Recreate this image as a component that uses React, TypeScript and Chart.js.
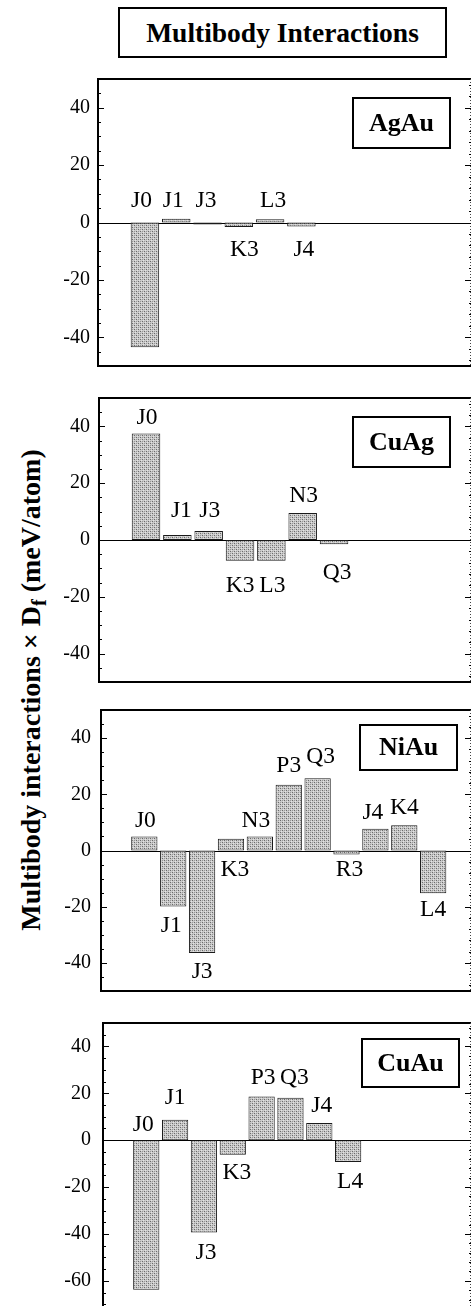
import React, { useEffect, useRef } from 'react';
import { Chart, registerables } from 'chart.js';

Chart.register(...registerables);

const FONT = '"Liberation Serif", "Times New Roman", serif';

// ---------- text ----------
const chartTitle = 'Multibody Interactions';
const yTitleMain = 'Multibody interactions \u00d7 D';
const yTitleSub = 'f';
const yTitleUnit = ' (meV/atom)';

// ---------- data ----------
const alloyNames = ['AgAu', 'CuAg', 'NiAu', 'CuAu'];

const agauLabels = ['J0', 'J1', 'J3', 'K3', 'L3', 'J4'];
const agauValues = [-43.5, 1.3, -0.7, -1.6, 1.1, -1.4];

const cuagLabels = ['J0', 'J1', 'J3', 'K3', 'L3', 'N3', 'Q3'];
const cuagValues = [37.5, 1.8, 3.2, -7.3, -7.3, 9.5, -1.5];

const niauLabels = ['J0', 'J1', 'J3', 'K3', 'N3', 'P3', 'Q3', 'R3', 'J4', 'K4', 'L4'];
const niauValues = [5.0, -19.9, -36.5, 4.2, 5.0, 23.4, 25.7, -1.4, 7.7, 9.0, -15.2];

const cuauLabels = ['J0', 'J1', 'J3', 'K3', 'P3', 'Q3', 'J4', 'L4'];
const cuauValues = [-63.8, 8.7, -39.4, -6.2, 18.7, 18.1, 7.3, -9.3];

const yTicksStandard = [-40, -20, 0, 20, 40];
const yTicksCuAu = [-60, -40, -20, 0, 20, 40];

// ---------- label placement (style) ----------
const agauTagSide = ['u', 'u', 'u', 'd', 'u', 'd'];
const agauTagDx = [-3.5, -3, -1.5, 5.5, 3, 2.5];
const agauTagGap = [16, 12, 16, 13, 12, 14];

const cuagTagSide = ['u', 'u', 'u', 'd', 'd', 'u', 'd'];
const cuagTagDx = [1, 4, 1, 0, 1, 1, 3];
const cuagTagGap = [10, 18, 14, 16, 16, 11, 19];

const niauTagSide = ['u', 'd', 'd', 'd', 'u', 'u', 'u', 'd', 'u', 'u', 'd'];
const niauTagDx = [1, -2, 0, 4, -4, 0, 3, 3, -2.5, 0, 0];
const niauTagGap = [9, 10, 9, 10, 9, 13, 15, 6, 10, 11, 7];

const cuauTagSide = ['u', 'u', 'd', 'd', 'u', 'u', 'u', 'd'];
const cuauTagDx = [-3, 0, 2, 4, 1.5, 4, 2.5, 2];
const cuauTagGap = [9, 16, 11, 9, 12, 14, 11, 10];

// ---------- layout (style) ----------
const PAD = 20;
const layouts = [
  { top: 79, bottom: 366, left: 98, xMax: 10.42, yMin: -50, tickPad: 8, box: { right: 21, top: 19, w: 97, h: 50 } },
  { top: 397, bottom: 683, left: 99, xMax: 10.37, yMin: -50, tickPad: 9, box: { right: 21, top: 19, w: 97, h: 50 } },
  { top: 708, bottom: 993, left: 101, xMax: 11.31, yMin: -50, tickPad: 10, box: { right: 14, top: 15, w: 97, h: 45 } },
  { top: 1019, bottom: 1313, left: 103, xMax: 11.26, yMin: -72, tickPad: 12, box: { right: 12, top: 16, w: 97, h: 48 } },
];

function makePattern(ctx: CanvasRenderingContext2D) {
  const c = document.createElement('canvas');
  c.width = 4;
  c.height = 4;
  const g = c.getContext('2d')!;
  g.fillStyle = '#cbcbcb';
  g.fillRect(0, 0, 4, 4);
  g.fillStyle = '#6a6a6a';
  g.fillRect(0, 0, 1, 1);
  g.fillRect(2, 2, 1, 1);
  g.fillStyle = '#989898';
  g.fillRect(2, 0, 1, 1);
  g.fillRect(0, 2, 1, 1);
  g.fillStyle = '#e2e2e2';
  g.fillRect(1, 3, 1, 1);
  g.fillRect(3, 1, 1, 1);
  return ctx.createPattern(c, 'repeat')!;
}

const framePlugin = {
  id: 'frame',
  beforeDatasetsDraw(chart: any) {
    const { ctx, chartArea } = chart;
    const zero = Math.round(chart.scales.y.getPixelForValue(0)) + 0.5;
    ctx.save();
    ctx.strokeStyle = '#000';
    ctx.lineWidth = 1;
    ctx.beginPath();
    ctx.moveTo(chartArea.left, zero);
    ctx.lineTo(chartArea.right, zero);
    ctx.stroke();
    ctx.restore();
  },
  afterDraw(chart: any, _args: any, opts: any) {
    const { ctx, chartArea } = chart;
    const { left, right, top, bottom } = chartArea;
    const ys = chart.scales.y;
    ctx.save();
    ctx.strokeStyle = '#000';
    ctx.lineWidth = 2;
    ctx.beginPath();
    ctx.moveTo(left - 1, top);
    ctx.lineTo(right, top);
    ctx.moveTo(left, top);
    ctx.lineTo(left, bottom);
    ctx.moveTo(left - 1, bottom);
    ctx.lineTo(right, bottom);
    ctx.stroke();

    // inward ticks, left side
    const majors: number[] = opts.majors;
    ctx.lineWidth = 1.2;
    ctx.beginPath();
    for (let v = Math.ceil(ys.min / 5) * 5; v <= ys.max; v += 5) {
      const py = Math.round(ys.getPixelForValue(v)) + 0.5;
      const len = majors.includes(v) ? 6 : 3;
      ctx.moveTo(left, py);
      ctx.lineTo(left + len, py);
    }
    ctx.stroke();

    // right edge: faint line + ticks
    ctx.strokeStyle = '#444';
    ctx.lineWidth = 1;
    ctx.setLineDash([1, 2]);
    ctx.beginPath();
    ctx.moveTo(right - 0.5, top);
    ctx.lineTo(right - 0.5, bottom);
    ctx.stroke();
    ctx.setLineDash([]);
    ctx.strokeStyle = '#000';
    ctx.beginPath();
    for (let v = Math.ceil(ys.min / 4) * 4; v <= ys.max; v += 4) {
      const py = Math.round(ys.getPixelForValue(v)) + 0.5;
      ctx.moveTo(right, py);
      ctx.lineTo(right - 2, py);
    }
    for (const v of majors) {
      const py = Math.round(ys.getPixelForValue(v)) + 0.5;
      ctx.moveTo(right, py);
      ctx.lineTo(right - 6, py);
    }
    ctx.stroke();

    // alloy name box
    const b = opts.box;
    const bx = right - b.right - b.w;
    const by = top + b.top;
    ctx.fillStyle = '#fff';
    ctx.fillRect(bx, by, b.w, b.h);
    ctx.lineWidth = 2;
    ctx.strokeRect(bx, by, b.w, b.h);
    ctx.fillStyle = '#000';
    ctx.font = `bold 26px ${FONT}`;
    ctx.textAlign = 'center';
    ctx.textBaseline = 'middle';
    ctx.fillText(opts.name, bx + b.w / 2, by + b.h / 2 + 1);
    ctx.restore();
  },
};

const tagPlugin = {
  id: 'tags',
  afterDatasetsDraw(chart: any, _args: any, opts: any) {
    const { ctx } = chart;
    const meta = chart.getDatasetMeta(0);
    const zero = chart.scales.y.getPixelForValue(0);
    const size = 23.5;
    const capH = size * 0.66;
    ctx.save();
    ctx.fillStyle = '#000';
    ctx.font = `${size}px ${FONT}`;
    ctx.textAlign = 'center';
    ctx.textBaseline = 'alphabetic';
    meta.data.forEach((el: any, i: number) => {
      const { x, y } = el.getProps(['x', 'y'], true);
      const hi = Math.min(y, zero);
      const lo = Math.max(y, zero);
      const gap = opts.gap[i];
      const by = opts.side[i] === 'u' ? hi - gap : lo + gap + capH;
      ctx.fillText(opts.labels[i], x + opts.dx[i], by);
    });
    ctx.restore();
  },
};

type PanelProps = {
  name: string;
  labels: string[];
  values: number[];
  ticks: number[];
  side: string[];
  dx: number[];
  gap: number[];
  lay: (typeof layouts)[number];
};

function Panel({ name, labels, values, ticks, side, dx, gap, lay }: PanelProps) {
  const ref = useRef<HTMLCanvasElement>(null);
  const h = lay.bottom - lay.top + 2 * PAD;
  useEffect(() => {
    const canvas = ref.current!;
    const ctx = canvas.getContext('2d')!;
    const pattern = makePattern(ctx);
    const chart = new Chart(ctx, {
      type: 'bar',
      data: {
        datasets: [
          {
            data: values.map((v, i) => ({ x: i, y: v })),
            backgroundColor: pattern,
            borderColor: '#1a1a1a',
            borderWidth: 1,
            borderSkipped: false,
            barPercentage: 0.91,
            categoryPercentage: 1,
          } as any,
        ],
      },
      options: {
        animation: false,
        responsive: false,
        devicePixelRatio: 1,
        events: [],
        layout: { padding: { top: PAD, bottom: PAD, left: 0, right: 0 } },
        plugins: {
          legend: { display: false },
          tooltip: { enabled: false },
          frame: { majors: ticks, box: lay.box, name },
          tags: { labels, side, dx, gap },
        } as any,
        scales: {
          x: {
            type: 'linear',
            min: -1.5,
            max: lay.xMax,
            display: false,
            offset: false,
            afterBuildTicks: (s: any) => {
              s.ticks = values.map((_, i) => ({ value: i }));
            },
          },
          y: {
            type: 'linear',
            min: lay.yMin,
            max: 50,
            grid: { display: false, drawTicks: false },
            border: { display: false },
            ticks: {
              padding: lay.tickPad,
              color: '#000',
              font: { family: FONT, size: 20 },
              callback: (v: any) => String(v),
            },
            afterBuildTicks: (s: any) => {
              s.ticks = ticks.map((v) => ({ value: v }));
            },
            afterFit: (s: any) => {
              s.width = lay.left;
            },
          },
        },
      },
      plugins: [framePlugin, tagPlugin],
    });
    return () => chart.destroy();
  }, []);
  return (
    <canvas
      ref={ref}
      width={471}
      height={h}
      style={{ position: 'absolute', left: 0, top: lay.top - PAD, width: 471, height: h }}
    />
  );
}

export default function App() {
  return (
    <div
      style={{
        position: 'absolute',
        left: 0,
        top: 0,
        width: 471,
        height: 1306,
        overflow: 'hidden',
        background: '#fff',
        fontFamily: FONT,
      }}
    >
      <div
        style={{
          position: 'absolute',
          left: 118,
          top: 7,
          width: 329,
          height: 51,
          boxSizing: 'border-box',
          border: '2px solid #000',
          display: 'flex',
          alignItems: 'center',
          justifyContent: 'center',
          font: `bold 27.5px ${FONT}`,
          color: '#000',
        }}
      >
        {chartTitle}
      </div>
      <div
        style={{
          position: 'absolute',
          left: 31,
          top: 690,
          transform: 'translate(-50%, -50%) rotate(-90deg)',
          whiteSpace: 'nowrap',
          font: `bold 28px ${FONT}`,
          lineHeight: 1,
          color: '#000',
        }}
      >
        {yTitleMain}
        <sub style={{ fontSize: '0.72em', verticalAlign: '-0.3em', lineHeight: 0 }}>{yTitleSub}</sub>
        {yTitleUnit}
      </div>
      <Panel name={alloyNames[0]} labels={agauLabels} values={agauValues} ticks={yTicksStandard}
        side={agauTagSide} dx={agauTagDx} gap={agauTagGap} lay={layouts[0]} />
      <Panel name={alloyNames[1]} labels={cuagLabels} values={cuagValues} ticks={yTicksStandard}
        side={cuagTagSide} dx={cuagTagDx} gap={cuagTagGap} lay={layouts[1]} />
      <Panel name={alloyNames[2]} labels={niauLabels} values={niauValues} ticks={yTicksStandard}
        side={niauTagSide} dx={niauTagDx} gap={niauTagGap} lay={layouts[2]} />
      <Panel name={alloyNames[3]} labels={cuauLabels} values={cuauValues} ticks={yTicksCuAu}
        side={cuauTagSide} dx={cuauTagDx} gap={cuauTagGap} lay={layouts[3]} />
    </div>
  );
}
